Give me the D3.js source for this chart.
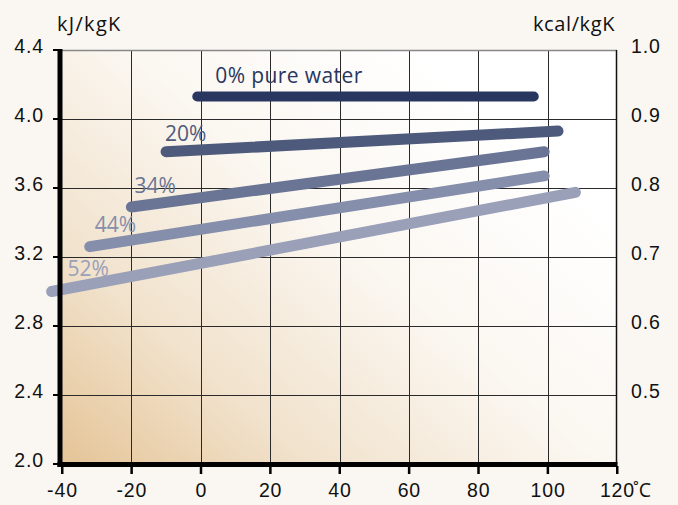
<!DOCTYPE html>
<html>
<head>
<meta charset="utf-8">
<script src="https://cdn.jsdelivr.net/npm/d3@7"></script>
<style>
  html, body { margin: 0; padding: 0; background: #faf7f2; }
  svg { display: block; font-family: "Open Sans", "Noto Sans", sans-serif; }
</style>
</head>
<body>
<svg id="chart" width="678" height="505"></svg>
<script>
// ---- data ----
const xTicks = [-40, -20, 0, 20, 40, 60, 80, 100, 120];
const yTicks = [2.0, 2.4, 2.8, 3.2, 3.6, 4.0, 4.4];
const kcalTicks = [0.5, 0.6, 0.7, 0.8, 0.9, 1.0];
const seriesNames = ["0% pure water", "20%", "34%", "44%", "52%"];
const waterTemps = [-1, 96];
const waterValues = [4.13, 4.13];
const g20Temps = [-10, 103];
const g20Values = [3.81, 3.93];
const g34Temps = [-20, 99];
const g34Values = [3.49, 3.81];
const g44Temps = [-32, 99];
const g44Values = [3.26, 3.67];
const g52Temps = [-43, 108];
const g52Values = [3.00, 3.575];

const seriesTemps = [waterTemps, g20Temps, g34Temps, g44Temps, g52Temps];
const seriesValues = [waterValues, g20Values, g34Values, g44Values, g52Values];
const colors = ["#283660", "#4d5a7c", "#6a7595", "#858eab", "#9aa0b8"];
const labelDx = [18, -1, 3, 5, 16];
const labelDy = [-14, -11, -14, -15, -16];
const widths = [10, 11, 11, 11, 11];

const svg = d3.select("#chart");
const x = d3.scaleLinear().domain([-40, 120]).range([62, 617]);
const y = d3.scaleLinear().domain([2.0, 4.4]).range([464, 50]);
const yk = d3.scaleLinear().domain([0.4, 1.0]).range([464, 50]);

// gradient
const defs = svg.append("defs");
const grad = defs.append("linearGradient").attr("id", "bg")
  .attr("gradientUnits", "userSpaceOnUse")
  .attr("x1", 60).attr("y1", 464).attr("x2", 420).attr("y2", 50);
grad.append("stop").attr("offset", 0).attr("stop-color", "#e5c497");
grad.append("stop").attr("offset", 0.3).attr("stop-color", "#f1e2cc");
grad.append("stop").attr("offset", 0.65).attr("stop-color", "#fbf7f1");
grad.append("stop").attr("offset", 1).attr("stop-color", "#ffffff");

svg.append("rect")
  .attr("x", x(-40) - 2).attr("y", y(4.4))
  .attr("width", x(120) - x(-40) + 2).attr("height", y(2.0) - y(4.4))
  .attr("fill", "url(#bg)");

// grid
const grid = svg.append("g");
grid.selectAll("line.v").data(xTicks.filter(d => d > -40 && d < 120)).join("line")
  .attr("x1", d => Math.round(x(d)) + 0.5).attr("x2", d => Math.round(x(d)) + 0.5)
  .attr("y1", y(4.4)).attr("y2", y(2.0))
  .attr("stroke", "#2a2a2a").attr("stroke-width", 1);
grid.selectAll("line.h").data(yTicks.filter(d => d > 2.0 && d < 4.4)).join("line")
  .attr("x1", x(-40)).attr("x2", x(120))
  .attr("y1", d => Math.round(y(d)) + 0.5).attr("y2", d => Math.round(y(d)) + 0.5)
  .attr("stroke", "#2a2a2a").attr("stroke-width", 1);
// top border (gray) and right border
grid.append("line").attr("x1", x(-40)).attr("x2", x(120))
  .attr("y1", y(4.4) + 0.5).attr("y2", y(4.4) + 0.5)
  .attr("stroke", "#888").attr("stroke-width", 1.5);
grid.append("line").attr("x1", x(120) - 0.5).attr("x2", x(120) - 0.5)
  .attr("y1", y(4.4)).attr("y2", y(2.0))
  .attr("stroke", "#111").attr("stroke-width", 1.5);

// series lines
const line = d3.line().x(d => x(d[0])).y(d => y(d[1]));
seriesNames.forEach((name, i) => {
  const pts = seriesTemps[i].map((t, j) => [t, seriesValues[i][j]]);
  svg.append("path").attr("d", line(pts))
    .attr("fill", "none").attr("stroke", colors[i])
    .attr("stroke-width", widths[i]).attr("stroke-linecap", "round");
  svg.append("text")
    .attr("x", x(pts[0][0]) + labelDx[i]).attr("y", y(pts[0][1]) + labelDy[i])
    .attr("fill", colors[i]).attr("font-size", 21)
    .attr("letter-spacing", i === 0 ? 0.4 : 0)
    .text(name);
});

// axes (thick)
svg.append("line").attr("x1", 60).attr("x2", 60)
  .attr("y1", y(4.4) - 1).attr("y2", y(2.0) + 3)
  .attr("stroke", "#000").attr("stroke-width", 5);
svg.append("line").attr("x1", 57.5).attr("x2", x(120) + 0.5)
  .attr("y1", y(2.0) + 0.5).attr("y2", y(2.0) + 0.5)
  .attr("stroke", "#000").attr("stroke-width", 5);

const tickFont = 19.5, tickLS = 0.9;

// left ticks and labels
const yAxis = d3.axisLeft(y).tickValues(yTicks).tickSize(0).tickFormat(d3.format(".1f"));
const gy = svg.append("g").attr("transform", "translate(44,0)").call(yAxis);
gy.select(".domain").remove();
gy.selectAll("text").attr("dy", null).attr("x", 0)
  .attr("y", 2).attr("dominant-baseline", "alphabetic")
  .attr("font-size", tickFont).attr("letter-spacing", tickLS)
  .attr("fill", "#111").attr("font-family", null);
svg.selectAll("rect.lt").data(yTicks).join("rect")
  .attr("x", 53).attr("y", d => y(d) - 1).attr("width", 5).attr("height", 2)
  .attr("fill", "#000");

// right labels
const kAxis = d3.axisRight(yk).tickValues(kcalTicks).tickSize(0).tickFormat(d3.format(".1f"));
const gk = svg.append("g").attr("transform", "translate(631,0)").call(kAxis);
gk.select(".domain").remove();
gk.selectAll("text").attr("dy", null).attr("x", 0)
  .attr("y", 2).attr("dominant-baseline", "alphabetic")
  .attr("font-size", tickFont).attr("letter-spacing", tickLS)
  .attr("fill", "#111").attr("font-family", null);

// bottom ticks and labels
const xAxis = d3.axisBottom(x).tickValues(xTicks).tickSize(0).tickFormat(d => String(d));
const gx = svg.append("g").attr("transform", "translate(0,497)").call(xAxis);
gx.select(".domain").remove();
gx.selectAll("text").attr("dy", null).attr("y", 0)
  .attr("font-size", tickFont).attr("letter-spacing", tickLS)
  .attr("fill", "#111").attr("font-family", null);
svg.selectAll("rect.bt").data(xTicks).join("rect")
  .attr("x", d => x(d) - 1).attr("y", y(2.0) + 2).attr("width", 2.5).attr("height", 8)
  .attr("fill", "#000");
svg.append("text").attr("x", x(120) + 16).attr("y", 497)
  .attr("font-size", tickFont).attr("fill", "#111").text("˚C");

// unit titles
svg.append("text").attr("x", 57).attr("y", 31)
  .attr("font-size", 20).attr("letter-spacing", 1.3).attr("fill", "#111").text("kJ/kgK");
svg.append("text").attr("x", 615).attr("y", 31).attr("text-anchor", "end")
  .attr("font-size", 20).attr("letter-spacing", 0.6).attr("fill", "#111").text("kcal/kgK");
</script>
</body>
</html>
